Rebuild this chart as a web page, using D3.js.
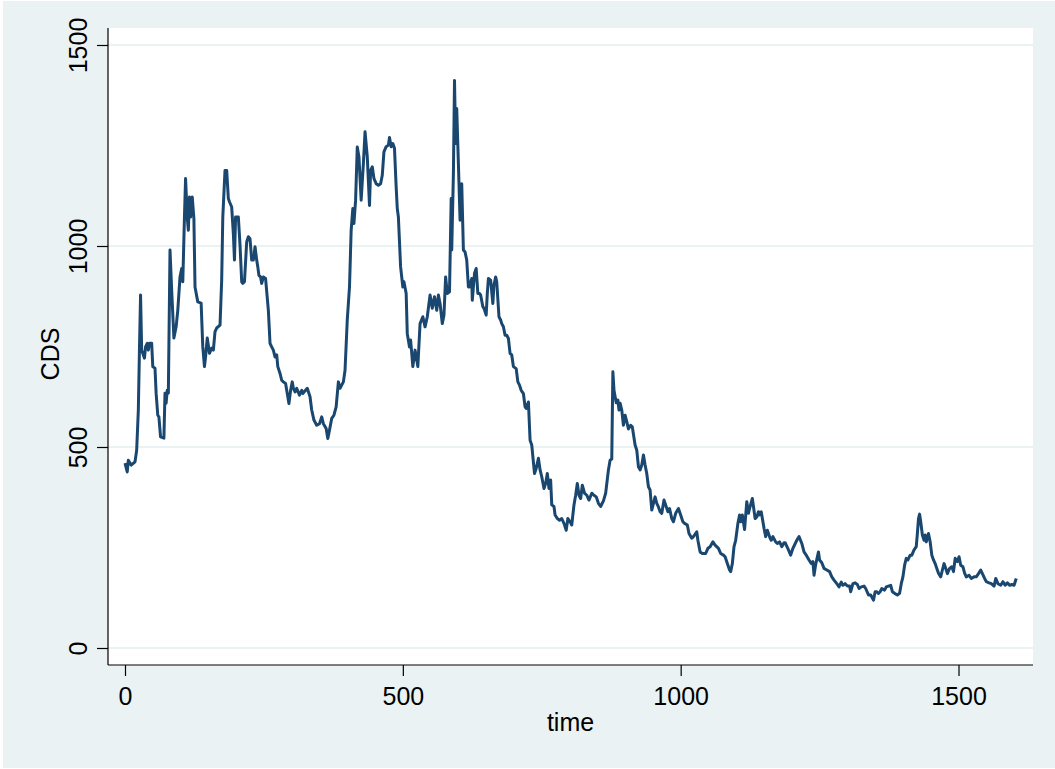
<!DOCTYPE html>
<html>
<head>
<meta charset="utf-8">
<script src="https://cdn.jsdelivr.net/npm/d3@7"></script>
<style>
  body { margin: 0; background: #ffffff; }
  text { font-family: "Liberation Sans", Arial, sans-serif; fill: #000; }
</style>
</head>
<body>
<svg id="chart" width="1055" height="769"></svg>
<script>
// CDS series, vertices
const timeSteps = [
  0, 4, 6, 11, 18, 21, 24, 26, 28, 30, 35, 37, 40, 42, 44, 48, 50, 54, 56, 59,
  61, 64, 70, 72, 74, 76, 78, 81, 84, 88, 92, 95, 99, 102, 104, 107, 109, 112, 114, 116,
  118, 121, 124, 126, 131, 137, 140, 143, 145, 148, 152, 156, 159, 162, 165, 171, 174, 176, 177, 180,
  183, 186, 188, 192, 195, 197, 199, 204, 207, 210, 212, 215, 219, 222, 225, 228, 231, 234, 237, 239,
  241, 244, 246, 249, 253, 258, 261, 264, 267, 270, 273, 275, 279, 282, 285, 289, 293, 295, 298, 301,
  303, 306, 309, 314, 318, 320, 328, 333, 336, 340, 345, 350, 354, 357, 362, 365, 368, 372, 376, 380,
  384, 387, 393, 396, 400, 404, 407, 410, 412, 415, 418, 421, 425, 429, 432, 436, 440, 442, 445, 448,
  452, 456, 460, 463, 466, 470, 474, 476, 479, 482, 485, 488, 490, 492, 496, 500, 502, 506, 508, 512,
  514, 518, 522, 527, 531, 536, 540, 544, 549, 553, 557, 561, 564, 567, 571, 574, 577, 580, 584, 587,
  588, 591, 593, 595, 597, 600, 603, 606, 609, 612, 615, 618, 620, 624, 625, 629, 632, 635, 638, 640,
  644, 646, 650, 652, 654, 658, 662, 664, 667, 669, 673, 676, 678, 681, 684, 687, 690, 693, 696, 699,
  704, 707, 710, 713, 717, 720, 722, 726, 729, 732, 737, 740, 744, 747, 750, 754, 757, 760, 763, 766,
  768, 772, 774, 778, 782, 786, 790, 794, 797, 801, 804, 808, 811, 814, 817, 820, 823, 827, 831, 835,
  840, 844, 848, 852, 856, 861, 865, 870, 873, 876, 878, 880, 884, 887, 889, 891, 894, 897, 900, 903,
  906, 910, 913, 918, 921, 924, 927, 930, 933, 936, 939, 942, 945, 948, 951, 954, 957, 960, 963, 966,
  970, 973, 977, 980, 984, 987, 991, 996, 1000, 1004, 1007, 1012, 1015, 1020, 1023, 1029, 1031, 1035, 1039, 1045,
  1049, 1053, 1058, 1062, 1068, 1072, 1077, 1080, 1084, 1088, 1090, 1093, 1096, 1099, 1103, 1106, 1108, 1111, 1115, 1119,
  1122, 1124, 1129, 1134, 1137, 1140, 1142, 1145, 1150, 1153, 1156, 1161, 1163, 1166, 1171, 1174, 1178, 1182, 1186, 1188,
  1194, 1198, 1202, 1209, 1213, 1218, 1222, 1226, 1231, 1235, 1238, 1240, 1243, 1248, 1250, 1254, 1258, 1263, 1268, 1272,
  1276, 1281, 1285, 1289, 1292, 1296, 1300, 1304, 1306, 1310, 1314, 1318, 1321, 1325, 1330, 1333, 1338, 1342, 1347, 1350,
  1353, 1356, 1359, 1362, 1367, 1370, 1374, 1378, 1381, 1385, 1390, 1394, 1397, 1400, 1403, 1406, 1409, 1413, 1416, 1420,
  1424, 1426, 1428, 1430, 1432, 1435, 1438, 1440, 1442, 1446, 1449, 1452, 1455, 1458, 1461, 1464, 1468, 1471, 1474, 1478,
  1480, 1484, 1488, 1491, 1494, 1498, 1501, 1504, 1508, 1511, 1514, 1519, 1523, 1528, 1532, 1536, 1540, 1543, 1547, 1550,
  1555, 1559, 1564, 1567, 1571, 1576, 1580, 1584, 1588, 1592, 1596, 1600, 1603, 1604
];

const cdsValues = [
  460, 438, 467, 455, 463, 492, 592, 741, 878, 741, 721, 749, 758, 741, 758, 758, 700, 696, 634, 579,
  575, 525, 522, 634, 609, 641, 634, 990, 890, 771, 799, 840, 923, 944, 911, 1072, 1168, 1072, 1039, 1122,
  1072, 1122, 1068, 898, 861, 858, 749, 700, 724, 771, 733, 746, 741, 787, 796, 803, 915, 1072, 1101, 1188,
  1188, 1118, 1110, 1097, 1031, 965, 1072, 1072, 1002, 911, 907, 911, 1010, 1023, 1018, 965, 965, 998, 965, 948,
  927, 923, 907, 923, 919, 840, 758, 749, 741, 724, 729, 700, 683, 666, 662, 658, 625, 608, 641, 662,
  646, 637, 646, 629, 641, 633, 646, 625, 592, 567, 554, 558, 575, 558, 546, 521, 542, 571, 579, 600,
  662, 646, 662, 691, 816, 898, 1039, 1093, 1056, 1114, 1246, 1222, 1114, 1205, 1284, 1222, 1101, 1188, 1197, 1168,
  1155, 1151, 1155, 1176, 1234, 1247, 1251, 1270, 1247, 1255, 1243, 1147, 1093, 1072, 948, 898, 911, 882, 782, 749,
  766, 700, 741, 700, 807, 824, 799, 824, 878, 845, 874, 840, 878, 857, 807, 828, 923, 882, 886, 1118,
  990, 1180, 1412, 1255, 1342, 1205, 1064, 1155, 990, 985, 965, 898, 898, 919, 865, 932, 944, 882, 882, 878,
  849, 845, 828, 882, 919, 915, 857, 903, 923, 911, 824, 816, 807, 799, 778, 778, 770, 733, 729, 700,
  695, 662, 654, 641, 633, 600, 596, 612, 517, 505, 434, 447, 472, 443, 426, 397, 409, 434, 397, 418,
  356, 352, 331, 322, 318, 322, 310, 293, 322, 314, 306, 356, 380, 409, 380, 372, 405, 385, 380, 368,
  385, 380, 376, 360, 352, 366, 385, 443, 467, 470, 687, 641, 610, 617, 592, 609, 592, 554, 579, 563,
  545, 554, 550, 505, 492, 451, 443, 455, 480, 455, 434, 401, 393, 343, 360, 376, 360, 351, 339, 335,
  368, 356, 339, 347, 322, 314, 335, 347, 331, 314, 310, 306, 285, 273, 277, 289, 268, 239, 235, 235,
  248, 252, 264, 256, 248, 235, 231, 227, 210, 194, 190, 210, 252, 268, 310, 331, 314, 331, 295, 364,
  335, 347, 372, 322, 326, 339, 331, 339, 298, 277, 293, 273, 268, 277, 264, 260, 264, 252, 262, 262,
  244, 231, 248, 268, 277, 260, 239, 231, 219, 210, 215, 181, 208, 239, 219, 212, 198, 194, 190, 177,
  169, 160, 152, 164, 156, 160, 154, 154, 140, 160, 162, 158, 148, 152, 154, 148, 132, 132, 119, 140,
  140, 136, 140, 148, 144, 152, 154, 156, 140, 136, 132, 136, 160, 177, 206, 223, 219, 231, 231, 244,
  252, 285, 322, 333, 314, 281, 268, 281, 264, 285, 264, 231, 219, 210, 198, 186, 177, 194, 210, 194,
  185, 198, 202, 190, 223, 215, 227, 206, 202, 186, 177, 181, 173, 177, 177, 185, 194, 185, 173, 165,
  162, 160, 154, 173, 160, 156, 165, 156, 162, 156, 158, 156, 169, 173
];

const xTicks = [0, 500, 1000, 1500];
const yTicks = [0, 500, 1000, 1500];

function createChart() {
  const svg = d3.select("#chart");
  const plot = { left: 108, top: 28, right: 1033, bottom: 665 };
  const tickLen = 11;
  const fontSize = 25;

  const dataset = timeSteps.map((t, i) => ({ time: t, cds: cdsValues[i] }));

  // outer graph region
  svg
    .append("rect")
    .attr("x", 3)
    .attr("y", 1)
    .attr("width", 1052)
    .attr("height", 767)
    .attr("fill", "#eaf2f3");

  svg
    .append("rect")
    .attr("x", plot.left)
    .attr("y", plot.top)
    .attr("width", plot.right - plot.left)
    .attr("height", plot.bottom - plot.top)
    .attr("fill", "#ffffff");

  const xScale = d3.scaleLinear().domain([0, 1500]).range([125, 958.5]);
  const yScale = d3.scaleLinear().domain([0, 1500]).range([648, 45]);

  // gridlines
  svg
    .append("g")
    .selectAll("line")
    .data(yTicks)
    .enter()
    .append("line")
    .attr("x1", plot.left)
    .attr("x2", plot.right)
    .attr("y1", (d) => yScale(d))
    .attr("y2", (d) => yScale(d))
    .attr("stroke", "#eaf2f3")
    .attr("stroke-width", 2);

  // y axis
  const yAxis = d3
    .axisLeft(yScale)
    .tickValues(yTicks)
    .tickSize(tickLen)
    .tickFormat((d) => d);
  const yG = svg
    .append("g")
    .attr("transform", "translate(" + plot.left + ", 0)")
    .call(yAxis);
  yG.select(".domain").remove();
  yG.selectAll(".tick line").attr("stroke", "#000").attr("stroke-width", 1.2);
  yG.selectAll(".tick text")
    .attr("x", null)
    .attr("dy", null)
    .attr("transform", "translate(" + (87 - plot.left) + ", 0) rotate(-90)")
    .attr("text-anchor", "middle")
    .style("font-size", fontSize + "px")
    .style("font-family", '"Liberation Sans", Arial, sans-serif')
    .attr("fill", "#000");

  // x axis
  const xAxis = d3
    .axisBottom(xScale)
    .tickValues(xTicks)
    .tickSize(tickLen)
    .tickFormat((d) => d);
  const xG = svg
    .append("g")
    .attr("transform", "translate(0, " + plot.bottom + ")")
    .call(xAxis);
  xG.select(".domain").remove();
  xG.selectAll(".tick line").attr("stroke", "#000").attr("stroke-width", 1.2);
  xG.selectAll(".tick text")
    .attr("y", 40)
    .attr("dy", null)
    .style("font-size", fontSize + "px")
    .style("font-family", '"Liberation Sans", Arial, sans-serif')
    .attr("fill", "#000");

  // axis lines
  svg
    .append("line")
    .attr("x1", plot.left)
    .attr("x2", plot.left)
    .attr("y1", plot.top)
    .attr("y2", plot.bottom)
    .attr("stroke", "#000")
    .attr("stroke-width", 1.2);
  svg
    .append("line")
    .attr("x1", plot.left)
    .attr("x2", plot.right)
    .attr("y1", plot.bottom)
    .attr("y2", plot.bottom)
    .attr("stroke", "#000")
    .attr("stroke-width", 1.2);

  // the series
  const line = d3
    .line()
    .x((d) => xScale(d.time))
    .y((d) => yScale(d.cds));
  svg
    .append("path")
    .datum(dataset)
    .attr("d", line)
    .attr("fill", "none")
    .attr("stroke", "#1a476f")
    .attr("stroke-width", 3)
    .attr("stroke-linejoin", "round");

  // axis titles
  svg
    .append("text")
    .text("time")
    .attr("x", (plot.left + plot.right) / 2)
    .attr("y", 731)
    .attr("text-anchor", "middle")
    .style("font-size", fontSize + "px");

  svg
    .append("text")
    .text("CDS")
    .attr("transform", "translate(59, 354) rotate(-90)")
    .attr("text-anchor", "middle")
    .style("font-size", fontSize + "px");
}

createChart();
</script>
</body>
</html>
